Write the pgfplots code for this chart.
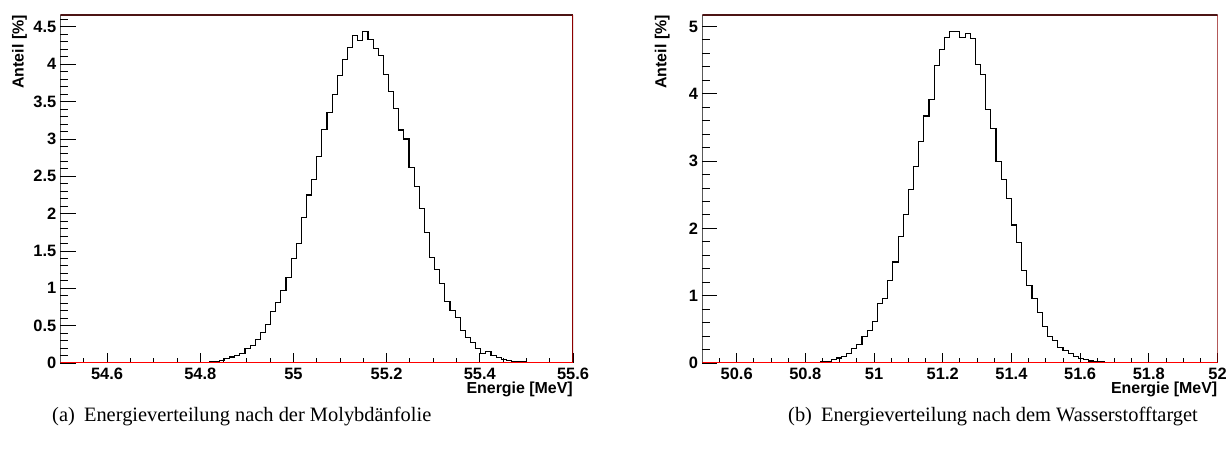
\documentclass[border=0pt]{standalone}
\usepackage{pgfplots}
\pgfplotsset{compat=1.18}
\usepackage{fontspec}
\setmainfont{Liberation Serif}
\setsansfont{Liberation Sans}
\definecolor{framedark}{rgb}{0.30,0.08,0.08}
\definecolor{framered}{rgb}{0.55,0.0,0.0}

\pgfplotstableread{
x y
54.500 0
54.797 0
54.808 0.005
54.819 0.013
54.830 0.025
54.841 0.035
54.852 0.062
54.863 0.08
54.874 0.10
54.885 0.13
54.896 0.19
54.907 0.24
54.918 0.32
54.929 0.41
54.940 0.51
54.951 0.69
54.962 0.81
54.973 0.97
54.984 1.15
54.995 1.40
55.006 1.60
55.017 1.95
55.028 2.25
55.039 2.46
55.050 2.76
55.061 3.13
55.072 3.36
55.083 3.59
55.094 3.85
55.105 4.07
55.116 4.22
55.127 4.38
55.138 4.32
55.149 4.44
55.160 4.33
55.171 4.21
55.182 4.12
55.193 3.86
55.204 3.64
55.215 3.41
55.226 3.12
55.237 3.00
55.248 2.62
55.259 2.36
55.270 2.07
55.281 1.75
55.292 1.41
55.303 1.25
55.314 1.07
55.325 0.82
55.336 0.70
55.347 0.61
55.358 0.43
55.369 0.34
55.380 0.27
55.391 0.20
55.402 0.13
55.413 0.15
55.424 0.10
55.435 0.07
55.446 0.05
55.457 0.03
55.468 0.02
55.479 0.018
55.490 0.013
55.501 0.008
55.512 0.005
55.523 0.003
55.534 0
55.600 0
}\molyb

\pgfplotstableread{
x y
50.500 0
50.815 0
50.830 0.005
50.845 0.015
50.860 0.025
50.875 0.05
50.890 0.074
50.905 0.10
50.920 0.14
50.935 0.21
50.950 0.28
50.965 0.40
50.980 0.48
50.995 0.61
51.010 0.89
51.025 0.96
51.040 1.23
51.055 1.50
51.070 1.88
51.085 2.20
51.100 2.58
51.115 2.92
51.130 3.29
51.145 3.67
51.160 3.91
51.175 4.42
51.190 4.66
51.205 4.84
51.220 4.92
51.235 4.92
51.250 4.84
51.265 4.89
51.280 4.82
51.295 4.44
51.310 4.28
51.325 3.76
51.340 3.48
51.355 3.00
51.370 2.72
51.385 2.44
51.400 2.05
51.415 1.79
51.430 1.37
51.445 1.15
51.460 0.96
51.475 0.75
51.490 0.54
51.505 0.40
51.520 0.335
51.535 0.23
51.550 0.18
51.565 0.14
51.580 0.10
51.595 0.07
51.610 0.05
51.625 0.03
51.640 0.02
51.655 0.015
51.670 0.01
51.685 0.005
51.700 0.003
51.715 0
52.000 0
}\wasser

\pgfplotsset{rootstyle/.style={
  scale only axis, height=348bp,
  axis line style={draw=none},
  tick pos=left, tick align=inside,
  /pgf/number format/assume math mode=true,
  /pgf/number format/fixed, scaled ticks=false,
  ticklabel style={font=\sffamily\bfseries\fontsize{16.5}{16.5}\selectfont},
  xticklabel style={inner sep=0pt, anchor=north, yshift=-5bp},
  yticklabel style={inner sep=0pt, anchor=east, xshift=-4bp},
  xtick style={/pgfplots/major tick length=10bp, /pgfplots/minor tick length=5bp, line width=0.9bp, black},
  ytick style={/pgfplots/major tick length=15bp, /pgfplots/minor tick length=7.7bp, line width=0.9bp, black},
  label style={font=\sffamily\bfseries\fontsize{16}{16}\selectfont, inner sep=0pt},
  x label style={at={(rel axis cs:1,-0.0546)}, anchor=north east},
  xlabel={Energie [MeV]},
  ylabel={Anteil [\%]},
  ymin=0,
}}

\begin{document}
\begin{tikzpicture}
\useasboundingbox (0,0) rectangle (1227bp,450bp);

\begin{axis}[rootstyle, at={(60.5bp,87bp)}, anchor=south west,
  width=512.5bp, xmin=54.5, xmax=55.6, ymax=4.66,
  xtick={54.6,54.8,55,55.2,55.4,55.6},
  minor xtick={54.55,54.65,54.7,54.75,54.85,54.9,54.95,55.05,55.1,55.15,55.25,55.3,55.35,55.45,55.5,55.55},
  ytick={0,0.5,1,1.5,2,2.5,3,3.5,4,4.5},
  minor ytick={0.1,0.2,0.3,0.4,0.6,0.7,0.8,0.9,1.1,1.2,1.3,1.4,1.6,1.7,1.8,1.9,2.1,2.2,2.3,2.4,2.6,2.7,2.8,2.9,3.1,3.2,3.3,3.4,3.6,3.7,3.8,3.9,4.1,4.2,4.3,4.4,4.6},
  y label style={at={(rel axis cs:-0.08,1)}, anchor=east},
]
\addplot[const plot, black, line width=1.1bp] table[x=x, y=y] {\molyb};
\draw[black, line width=1.3bp] (rel axis cs:0,0) -- (rel axis cs:0,1);
\draw[framedark, line width=1.3bp] (rel axis cs:0,1) -- (rel axis cs:1,1);
\draw[framered, line width=1.3bp] (rel axis cs:1,1) -- (rel axis cs:1,0);
\draw[red, line width=1.3bp] (rel axis cs:0,0) -- (rel axis cs:1,0);
\end{axis}

\begin{axis}[rootstyle, at={(702.3bp,87bp)}, anchor=south west,
  width=515.2bp, xmin=50.5, xmax=52, ymax=5.17,
  xtick={50.6,50.8,51,51.2,51.4,51.6,51.8,52},
  minor xtick={50.55,50.65,50.7,50.75,50.85,50.9,50.95,51.05,51.1,51.15,51.25,51.3,51.35,51.45,51.5,51.55,51.65,51.7,51.75,51.85,51.9,51.95},
  ytick={0,1,2,3,4,5},
  minor ytick={0.2,0.4,0.6,0.8,1.2,1.4,1.6,1.8,2.2,2.4,2.6,2.8,3.2,3.4,3.6,3.8,4.2,4.4,4.6,4.8},
  y label style={at={(rel axis cs:-0.0776,1)}, anchor=east},
]
\addplot[const plot, black, line width=1.1bp] table[x=x, y=y] {\wasser};
\draw[black, line width=1.3bp] (rel axis cs:0,0) -- (rel axis cs:0,1);
\draw[framedark, line width=1.3bp] (rel axis cs:0,1) -- (rel axis cs:1,1);
\draw[framered, line width=1.3bp] (rel axis cs:1,1) -- (rel axis cs:1,0);
\draw[red, line width=1.3bp] (rel axis cs:0,0) -- (rel axis cs:1,0);
\end{axis}

\node[anchor=base west, inner sep=0pt, font=\fontsize{20.5}{24}\selectfont] at (52bp,29bp) {(a)\hspace{0.45em}Energieverteilung nach der Molybdänfolie};
\node[anchor=base west, inner sep=0pt, font=\fontsize{20.5}{24}\selectfont] at (788bp,29bp) {(b)\hspace{0.45em}Energieverteilung nach dem Wasserstofftarget};
\end{tikzpicture}
\end{document}
